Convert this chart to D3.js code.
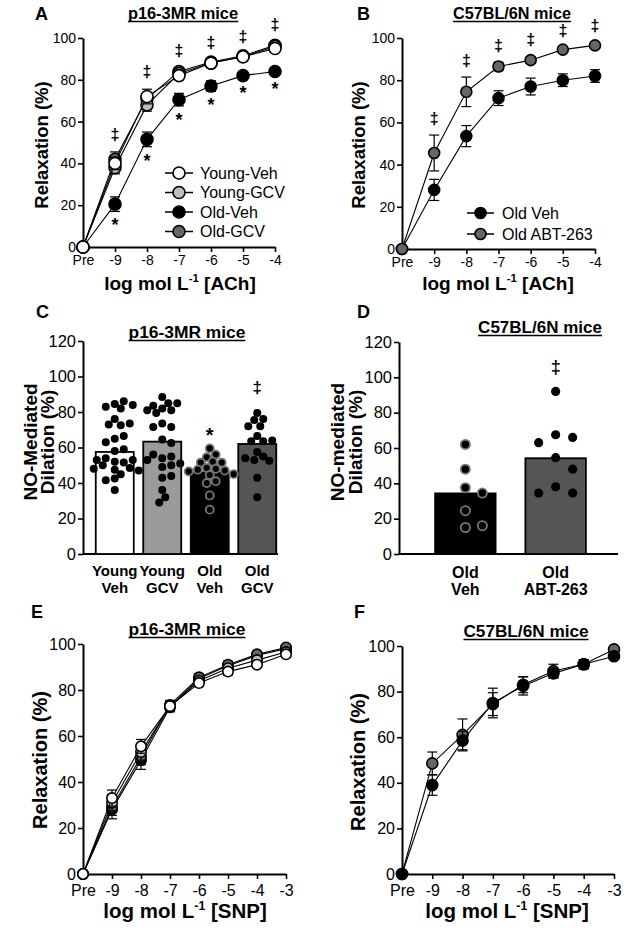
<!DOCTYPE html>
<html><head><meta charset="utf-8">
<script src="https://cdn.jsdelivr.net/npm/d3@7"></script>
<style>body{margin:0;background:#fff} svg{display:block} text{font-family:Arial,"Liberation Sans",sans-serif}</style>
</head><body><svg id="c" width="624" height="930"></svg>
<script>
// ---------- DATA ----------
const achDoses = ["Pre","-9","-8","-7","-6","-5","-4"];
const snpDoses = ["Pre","-9","-8","-7","-6","-5","-4","-3"];
const relaxTicks = [0,20,40,60,80,100];
const dilationTicks = [0,20,40,60,80,100,120];
const p16Groups = ["Young-Veh","Young-GCV","Old-Veh","Old-GCV"];
const c57Groups = ["Old Veh","Old ABT-263"];

// Panel A (ACh, p16-3MR)
const aYoungVeh    = [0,40,72,82,88,91,95];
const aYoungVehErr = [0,3,3.5,2,1.5,1,1];
const aYoungGCV    = [0,38,68,83,88,91,96];
const aYoungGCVErr = [0,3,3,2,1.5,1,1];
const aOldVeh      = [0,20.5,51.5,70.5,77,82,84];
const aOldVehErr   = [0,3.5,3.5,3,2.5,1.5,1.5];
const aOldGCV      = [0,42,71,84,88.5,91.5,96.5];
const aOldGCVErr   = [0,3.5,3,1.5,1,1,1.5];
const aDaggerDoses = ["-9","-8","-7","-6","-5","-4"];
const aStarDoses   = ["-9","-8","-7","-6","-5","-4"];

// Panel B (ACh, C57BL/6N)
const bOldVeh    = [0,28,53.5,71.5,77,80,82];
const bOldVehErr = [0,5,5,3.5,4,3,3];
const bOldABT    = [0,45.5,74.5,86.5,89.5,94.5,96.5];
const bOldABTErr = [0,8.5,7,2,1.5,1.2,1.2];
const bDaggerDoses = ["-9","-8","-7","-6","-5","-4"];

// Panel C (NO-mediated dilation, p16-3MR)
const cCategories = ["Young Veh","Young GCV","Old Veh","Old GCV"];
const cMeans = [57.5,63.3,46,62];
const cYoungVeh = [84.5,86,82,83,84,76,72.5,73,73.5,65,66.5,63,58,59,52,51.5,54,53,53,47.5,50,48.5,48,47,45,42.5,41.5,36];
const cYoungGCV = [88.5,82,81,85,83.5,85,81,79.5,73.5,71.5,71.5,64.5,62.5,54,55,56,53,49,50,51,43,44,36,32,29];
const cOldVeh   = [59.5,56,54.5,52,51.5,51.5,48.5,48,47.5,47,46.5,45,44.5,41,40,33,25];
const cOldGCV   = [79.5,76,75.5,72,72,66.5,63.5,63.5,64,57.5,55,53,52.5,54,43,32];

// Panel D (NO-mediated dilation, C57BL/6N)
const dCategories = ["Old Veh","Old ABT-263"];
const dMeans = [34.3,54.2];
const dOldVeh = [62,48,37.5,34.5,24.5,15,16];
const dOldABT = [92,67.5,66,63,54.5,48,38,34.5,34.5];

// Panel E (SNP, p16-3MR)
const eYoungVeh    = [0,33,55.5,73,83,88,91,95.5];
const eYoungVehErr = [0,3.5,3,2,1.5,1.5,1,1];
const eYoungGCV    = [0,31,53,73,84,89.5,93,96.5];
const eYoungGCVErr = [0,3.5,3.5,2,1.5,1.5,1,1];
const eOldVeh      = [0,28,49.5,72.5,85,90.5,95,98];
const eOldVehErr   = [0,4,4,2,1.5,1.5,1,1];
const eOldGCV      = [0,29,51,73.5,85.5,91,95.5,98.5];
const eOldGCVErr   = [0,3.5,3.5,2,1.5,1.5,1,1];

// Panel F (SNP, C57BL/6N)
const fOldVeh    = [0,39,58.5,75,82.5,88,92,95.5];
const fOldVehErr = [0,4.5,4,6.5,4,2,2,1];
const fOldABT    = [0,48.5,61,74.5,83,89,92,98.5];
const fOldABTErr = [0,5,7,5,3.5,3,2,1];

// ---------- STYLES ----------
const FONT = 'Arial, "Liberation Sans", sans-serif';
const colYoungVeh = "#ffffff", colYoungGCV = "#bdbdbd", colOldVeh = "#000000", colOldGCV = "#666666";
const svg = d3.select("#c");

function styleAxis(sel, fs){
  sel.attr("font-family", FONT);
  sel.select(".domain").attr("stroke","#000").attr("stroke-width",2);
  sel.selectAll(".tick line").attr("stroke","#000").attr("stroke-width",1.6);
  sel.selectAll("text").attr("font-size",fs).attr("fill","#000");
}
function panelLabel(t,x,y){
  svg.append("text").attr("x",x).attr("y",y).attr("font-size",18).attr("font-weight","bold").text(t);
}
function title(t,cx,y,fs){
  const el = svg.append("text").attr("x",cx).attr("y",y).attr("text-anchor","middle")
    .attr("font-size",fs).attr("font-weight","bold").text(t);
  const w = el.node().getComputedTextLength();
  svg.append("line").attr("x1",cx-w/2).attr("x2",cx+w/2).attr("y1",y+2.5).attr("y2",y+2.5)
    .attr("stroke","#000").attr("stroke-width",1.4);
}
function yTitle(lines,bx,cy,fs,gap){
  lines.forEach((l,i)=>{
    const x = bx + i*gap;
    svg.append("text").attr("transform",`translate(${x},${cy}) rotate(-90)`).attr("text-anchor","middle")
      .attr("font-size",fs).attr("font-weight","bold").text(l);
  });
}
function xTitle(cx,y,fs,agent){
  const t = svg.append("text").attr("x",cx).attr("y",y).attr("text-anchor","middle")
    .attr("font-weight","bold").attr("font-size",fs);
  t.append("tspan").text("log mol L");
  t.append("tspan").attr("font-size",fs*0.6).attr("dy",-fs*0.4).text("-1");
  t.append("tspan").attr("dy",fs*0.4).text(" ["+agent+"]");
}

function lineChart(cfg){
  const x = d3.scalePoint().domain(cfg.doses).range([cfg.x0,cfg.x1]);
  const y = d3.scaleLinear().domain([0,100]).range([cfg.yBot,cfg.yTop]);
  const g = svg.append("g");
  const ya = g.append("g").attr("transform",`translate(${cfg.x0},0)`)
    .call(d3.axisLeft(y).tickValues(relaxTicks).tickSize(5).tickSizeOuter(0).tickPadding(2));
  const xa = g.append("g").attr("transform",`translate(0,${cfg.yBot})`)
    .call(d3.axisBottom(x).tickSize(5).tickSizeOuter(0).tickPadding(cfg.xPad));
  styleAxis(ya,cfg.tickFs); styleAxis(xa,cfg.tickFs);
  cfg.series.forEach(s=>{
    const pts = cfg.doses.map((d,i)=>({x:x(d),v:s.values[i],e:s.errs[i]}));
    g.append("path").datum(pts).attr("d",d3.line().x(d=>d.x).y(d=>y(d.v)))
      .attr("fill","none").attr("stroke","#000").attr("stroke-width",1.1);
    const eb = g.append("g").attr("stroke","#000").attr("stroke-width",1.2);
    pts.filter(d=>d.e>0).forEach(d=>{
      eb.append("line").attr("x1",d.x).attr("x2",d.x).attr("y1",y(d.v-d.e)).attr("y2",y(d.v+d.e));
      [d.v-d.e,d.v+d.e].forEach(c=>eb.append("line").attr("x1",d.x-5).attr("x2",d.x+5).attr("y1",y(c)).attr("y2",y(c)));
    });
    g.selectAll(null).data(pts).join("circle").attr("cx",d=>d.x).attr("cy",d=>y(d.v)).attr("r",cfg.r)
      .attr("fill",s.fill).attr("stroke","#000").attr("stroke-width",1.6);
  });
  (cfg.daggers||[]).forEach(d=>{
    const i = cfg.doses.indexOf(d);
    const top = d3.max(cfg.series,s=>s.values[i]+s.errs[i]);
    g.append("text").attr("x",x(d)).attr("y",y(top)-cfg.r-6).attr("text-anchor","middle")
      .attr("font-size",16).attr("font-weight","bold").text("\u2021");
  });
  (cfg.stars||[]).forEach(d=>{
    const i = cfg.doses.indexOf(d);
    const s = cfg.starSeries;
    g.append("text").attr("x",x(d)).attr("y",y(s.values[i]-s.errs[i])+20).attr("text-anchor","middle")
      .attr("font-size",18).attr("font-weight","bold").text("*");
  });
  if(cfg.legend){
    const L = cfg.legend;
    L.items.forEach((it,i)=>{
      const yy = L.y + i*L.dy;
      g.append("line").attr("x1",L.x).attr("x2",L.x+L.w).attr("y1",yy).attr("y2",yy).attr("stroke","#000").attr("stroke-width",1.5);
      g.append("circle").attr("cx",L.x+L.w/2).attr("cy",yy).attr("r",cfg.r).attr("fill",it.fill).attr("stroke","#000").attr("stroke-width",1.6);
      g.append("text").attr("x",L.tx).attr("y",yy+5.5).attr("font-size",16).text(it.name);
    });
  }
}

function swarm(values, yScale, step, minDist){
  const placed = [];
  return values.map(v=>{
    const py = yScale(v);
    for(let k=0;k<60;k++){
      const cands = k===0?[0]:[k*step,-k*step];
      for(const c of cands){
        if(placed.every(p=>Math.hypot(p.x-c,p.y-py)>=minDist)){ placed.push({x:c,y:py}); return c; }
      }
    }
    return 0;
  });
}

function barChart(cfg){
  const x = d3.scaleBand().domain(cfg.cats).range(cfg.range).paddingInner(cfg.pi).paddingOuter(cfg.po);
  const y = d3.scaleLinear().domain([0,120]).range([cfg.yBot,cfg.yTop]);
  const g = svg.append("g");
  const ya = g.append("g").attr("transform",`translate(${cfg.x0},0)`)
    .call(d3.axisLeft(y).tickValues(dilationTicks).tickSize(5).tickSizeOuter(0).tickPadding(2));
  styleAxis(ya,cfg.tickFs);
  g.append("line").attr("x1",cfg.x0).attr("x2",cfg.xEnd).attr("y1",cfg.yBot).attr("y2",cfg.yBot).attr("stroke","#000").attr("stroke-width",2);
  cfg.cats.forEach((c,i)=>{
    g.append("rect").attr("x",x(c)).attr("y",y(cfg.means[i])).attr("width",x.bandwidth())
      .attr("height",y(0)-y(cfg.means[i])).attr("fill",cfg.fills[i]).attr("stroke","#000").attr("stroke-width",1.8);
  });
  cfg.cats.forEach((c,i)=>{
    const vals = cfg.points[i];
    const offs = swarm(vals,y,cfg.step,cfg.minDist);
    const cx = x(c)+x.bandwidth()/2;
    vals.forEach((v,j)=>{
      g.append("circle").attr("cx",cx+offs[j]).attr("cy",y(v)).attr("r",cfg.dotR)
        .attr("fill","#000").attr("stroke",cfg.dotStroke[i]).attr("stroke-width",cfg.dotStroke[i]==="none"?0:1.8);
    });
    const parts = c.split(" ");
    parts.forEach((p,k)=>{
      g.append("text").attr("x",cx).attr("y",cfg.labY+k*cfg.labDy).attr("text-anchor","middle")
        .attr("font-size",cfg.labFs).attr("font-weight","bold").text(p);
    });
  });
  (cfg.marks||[]).forEach(m=>{
    const c = cfg.cats[m.i];
    const cx = x(c)+x.bandwidth()/2;
    const top = d3.max(cfg.points[m.i]);
    g.append("text").attr("x",cx).attr("y",y(top)+m.dy).attr("text-anchor","middle")
      .attr("font-size",m.fs).attr("font-weight","bold").text(m.t);
  });
}

// ---------- PANEL A ----------
panelLabel("A",35,20);
title("p16-3MR mice",183,19,16.4);
lineChart({doses:achDoses,x0:83,x1:275,yTop:38,yBot:247,tickFs:14,xPad:3,r:6,
  series:[
    {values:aOldVeh,errs:aOldVehErr,fill:colOldVeh},
    {values:aOldGCV,errs:aOldGCVErr,fill:colOldGCV},
    {values:aYoungGCV,errs:aYoungGCVErr,fill:colYoungGCV},
    {values:aYoungVeh,errs:aYoungVehErr,fill:colYoungVeh}],
  daggers:aDaggerDoses, stars:aStarDoses,
  starSeries:{values:aOldVeh,errs:aOldVehErr},
  legend:{x:165,w:28,tx:200,y:173,dy:19.5,items:[
    {name:p16Groups[0],fill:colYoungVeh},{name:p16Groups[1],fill:colYoungGCV},
    {name:p16Groups[2],fill:colOldVeh},{name:p16Groups[3],fill:colOldGCV}]}
});
yTitle(["Relaxation (%)"],48,145,18.5,0);
xTitle(180,290,19,"ACh");

// ---------- PANEL B ----------
panelLabel("B",357,20);
title("C57BL/6N mice",512,19,16.2);
lineChart({doses:achDoses,x0:402,x1:595,yTop:38,yBot:249,tickFs:14,xPad:3,r:5.5,
  series:[
    {values:bOldVeh,errs:bOldVehErr,fill:colOldVeh},
    {values:bOldABT,errs:bOldABTErr,fill:colOldGCV}],
  daggers:bDaggerDoses,
  legend:{x:467,w:27,tx:502,y:213,dy:21,items:[
    {name:c57Groups[0],fill:colOldVeh},{name:c57Groups[1],fill:colOldGCV}]}
});
yTitle(["Relaxation (%)"],365,145,18.5,0);
xTitle(498,290,19,"ACh");

// ---------- PANEL C ----------
panelLabel("C",36,318);
title("p16-3MR mice",187,338,17.4);
barChart({cats:cCategories,means:cMeans,points:[cYoungVeh,cYoungGCV,cOldVeh,cOldGCV],
  fills:["#ffffff","#9b9b9b","#000000","#555555"],dotStroke:["none","none","#777777","none"],
  range:[91,281],pi:0.2,po:0.1,x0:83,xEnd:278,yTop:341,yBot:554,tickFs:16.5,
  dotR:4,step:3,minDist:7.2,labY:576,labDy:16.5,labFs:15,
  marks:[{i:2,t:"*",fs:20,dy:-6},{i:3,t:"\u2021",fs:17,dy:-20}]
});
yTitle(["NO-Mediated","Dilation (%)"],37,442,19,17);

// ---------- PANEL D ----------
panelLabel("D",357,318);
title("C57BL/6N mice",540,333,17);
barChart({cats:dCategories,means:dMeans,points:[dOldVeh,dOldABT],
  fills:["#000000","#555555"],dotStroke:["#777777","none"],
  range:[399,622],pi:0.33,po:0.4,x0:399,xEnd:618,yTop:342,yBot:554,tickFs:16.5,
  dotR:4.6,step:8.5,minDist:16,labY:578,labDy:17,labFs:16,
  marks:[{i:1,t:"\u2021",fs:18,dy:-18}]
});
yTitle(["NO-mediated","Dilation (%)"],344,442,19,18);

// ---------- PANEL E ----------
panelLabel("E",31,618);
title("p16-3MR mice",187,635,17.4);
lineChart({doses:snpDoses,x0:83,x1:286,yTop:644,yBot:874,tickFs:16,xPad:6,r:5.2,
  series:[
    {values:eOldVeh,errs:eOldVehErr,fill:colOldVeh},
    {values:eOldGCV,errs:eOldGCVErr,fill:colOldGCV},
    {values:eYoungGCV,errs:eYoungGCVErr,fill:colYoungGCV},
    {values:eYoungVeh,errs:eYoungVehErr,fill:colYoungVeh}]
});
yTitle(["Relaxation (%)"],47,760,20,0);
xTitle(185,918,20.5,"SNP");

// ---------- PANEL F ----------
panelLabel("F",354,618);
title("C57BL/6N mice",526,637,17.2);
lineChart({doses:snpDoses,x0:402,x1:614,yTop:646,yBot:874,tickFs:16,xPad:6,r:5.5,
  series:[
    {values:fOldABT,errs:fOldABTErr,fill:colOldGCV},
    {values:fOldVeh,errs:fOldVehErr,fill:colOldVeh}]
});
yTitle(["Relaxation (%)"],365,762,20,0);
xTitle(507,918,20.5,"SNP");
</script></body></html>
